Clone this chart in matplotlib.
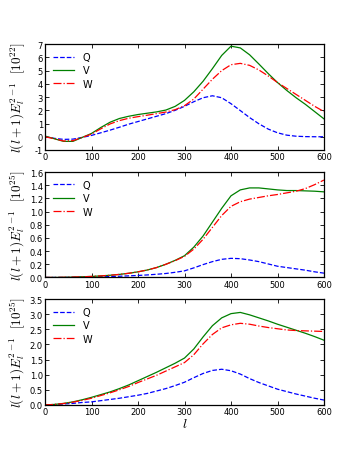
import matplotlib
matplotlib.use("Agg")
import matplotlib.pyplot as plt

# multipole grid
ell = list(range(0, 601, 20))

# panel 1 [1e22]
q1 = [0.0, -0.12, -0.2, -0.18, -0.05, 0.1, 0.3, 0.5, 0.72, 0.95, 1.15, 1.35, 1.55,
      1.75, 2.0, 2.3, 2.65, 2.95, 3.1, 2.95, 2.5, 1.98, 1.45, 0.98, 0.58, 0.3,
      0.12, 0.04, 0.01, 0.0, 0.0]
v1 = [0.05, -0.15, -0.35, -0.35, -0.05, 0.25, 0.7, 1.1, 1.38, 1.55, 1.68, 1.78, 1.88,
      2.02, 2.3, 2.75, 3.4, 4.2, 5.15, 6.15, 6.85, 6.72, 6.2, 5.5, 4.78, 4.1,
      3.5, 2.95, 2.45, 1.9, 1.35]
w1 = [0.0, -0.15, -0.32, -0.3, -0.05, 0.2, 0.6, 0.97, 1.22, 1.4, 1.52, 1.63, 1.75,
      1.87, 2.05, 2.35, 2.85, 3.6, 4.35, 5.0, 5.45, 5.55, 5.4, 5.05, 4.6, 4.1,
      3.65, 3.2, 2.75, 2.3, 1.9]

# panel 2 [1e25]
q2 = [0.0, 0.0, 0.0, 0.002, 0.004, 0.006, 0.009, 0.013, 0.018, 0.024, 0.03, 0.038,
      0.048, 0.06, 0.078, 0.1, 0.145, 0.195, 0.24, 0.275, 0.29, 0.285, 0.265, 0.24,
      0.205, 0.17, 0.15, 0.13, 0.11, 0.085, 0.065]
v2 = [0.0, 0.0, 0.002, 0.005, 0.01, 0.015, 0.023, 0.033, 0.046, 0.063, 0.085, 0.113,
      0.15, 0.2, 0.26, 0.33, 0.46, 0.63, 0.84, 1.05, 1.24, 1.33, 1.36, 1.36,
      1.345, 1.33, 1.32, 1.32, 1.315, 1.31, 1.3]
w2 = [0.0, 0.0, 0.002, 0.005, 0.01, 0.015, 0.023, 0.033, 0.046, 0.063, 0.085, 0.113,
      0.15, 0.2, 0.255, 0.32, 0.43, 0.58, 0.76, 0.94, 1.08, 1.15, 1.19, 1.215,
      1.24, 1.26, 1.285, 1.31, 1.35, 1.41, 1.48]

# panel 3 [1e25]
q3 = [0.0, 0.01, 0.03, 0.05, 0.08, 0.1, 0.14, 0.18, 0.22, 0.27, 0.32, 0.38, 0.46,
      0.54, 0.64, 0.75, 0.9, 1.04, 1.14, 1.18, 1.13, 1.02, 0.87, 0.74, 0.63, 0.52,
      0.44, 0.36, 0.29, 0.22, 0.16]
v3 = [0.0, 0.015, 0.05, 0.1, 0.17, 0.25, 0.34, 0.43, 0.54, 0.66, 0.8, 0.94, 1.08,
      1.23, 1.38, 1.55, 1.85, 2.25, 2.62, 2.88, 3.02, 3.06, 2.98, 2.88, 2.78, 2.67,
      2.57, 2.47, 2.37, 2.26, 2.14]
w3 = [0.0, 0.015, 0.045, 0.09, 0.15, 0.22, 0.31, 0.4, 0.5, 0.61, 0.74, 0.86, 0.98,
      1.12, 1.26, 1.4, 1.66, 2.02, 2.33, 2.55, 2.65, 2.7, 2.67, 2.61, 2.56, 2.52,
      2.48, 2.46, 2.45, 2.44, 2.43]

exponents = ["22", "25", "25"]
ylims = [(-1, 7), (0, 1.6), (0, 3.5)]
yticks = [list(range(-1, 8)),
          [0.0, 0.2, 0.4, 0.6, 0.8, 1.0, 1.2, 1.4, 1.6],
          [0.0, 0.5, 1.0, 1.5, 2.0, 2.5, 3.0, 3.5]]
ytick_labels = [[str(t) for t in yticks[0]],
                ["%.1f" % t for t in yticks[1]],
                ["%.1f" % t for t in yticks[2]]]
xticks = [0, 100, 200, 300, 400, 500, 600]

plt.rcParams['mathtext.fontset'] = 'cm'

fig = plt.figure(figsize=(3.6, 4.52), dpi=100)
boxes = [[0.125, 0.666, 0.775, 0.234],
         [0.125, 0.384, 0.775, 0.233],
         [0.125, 0.102, 0.775, 0.234]]
panels = [(q1, v1, w1), (q2, v2, w2), (q3, v3, w3)]

for i, (q, v, w) in enumerate(panels):
    ax = fig.add_axes(boxes[i])
    ax.plot(ell, q, color='b', ls='--', lw=0.9, label='Q')
    ax.plot(ell, v, color='g', ls='-', lw=0.9, label='V')
    ax.plot(ell, w, color='r', ls='-.', lw=0.9, label='W')
    ax.set_xlim(0, 600)
    ax.set_ylim(*ylims[i])
    ax.set_xticks(xticks)
    ax.set_yticks(yticks[i])
    ax.set_yticklabels(ytick_labels[i])
    ax.tick_params(direction='in', top=True, right=True, labelsize=6,
                   length=3, width=0.6, pad=1.5)
    for s in ax.spines.values():
        s.set_linewidth(0.9)
    ax.set_ylabel(r'$l(l+1)E_l^{2-1}\ \ [10^{%s}]$' % exponents[i],
                  fontsize=9.5, labelpad=2)
    ax.yaxis.set_label_coords(-0.065, 0.5)
    ax.legend(loc='upper left', frameon=False, fontsize=7, handlelength=2.2,
              labelspacing=0.35, borderaxespad=0.4, handletextpad=0.9)
    if i == 2:
        ax.set_xlabel(r'$l$', fontsize=10, labelpad=0)

fig.savefig("out.png", dpi=100)
